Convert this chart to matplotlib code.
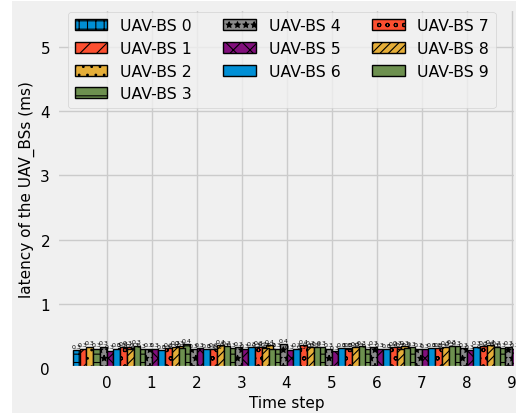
import numpy as np
import matplotlib
matplotlib.use("Agg")
import matplotlib.pyplot as plt
from matplotlib.patches import Rectangle

plt.style.use('fivethirtyeight')

# latency per UAV-BS over the time steps (ms)
time_steps = np.arange(10)
uav_names = ['UAV-BS %d' % i for i in range(10)]
lat0 = [0.28, 0.31, 0.27, 0.29, 0.30, 0.28, 0.31, 0.29, 0.30, 0.28]
lat1 = [0.30, 0.33, 0.29, 0.28, 0.32, 0.30, 0.31, 0.33, 0.29, 0.32]
lat2 = [0.33, 0.31, 0.34, 0.30, 0.36, 0.31, 0.30, 0.34, 0.32, 0.30]
lat3 = [0.30, 0.29, 0.37, 0.31, 0.30, 0.33, 0.29, 0.32, 0.34, 0.31]
lat4 = [0.33, 0.30, 0.29, 0.32, 0.37, 0.30, 0.33, 0.30, 0.31, 0.33]
lat5 = [0.27, 0.30, 0.31, 0.29, 0.28, 0.26, 0.30, 0.29, 0.28, 0.30]
lat6 = [0.30, 0.28, 0.29, 0.32, 0.30, 0.31, 0.29, 0.31, 0.33, 0.29]
lat7 = [0.32, 0.31, 0.30, 0.33, 0.36, 0.30, 0.32, 0.31, 0.34, 0.32]
lat8 = [0.29, 0.33, 0.36, 0.31, 0.33, 0.32, 0.30, 0.33, 0.36, 0.31]
lat9 = [0.35, 0.31, 0.34, 0.30, 0.32, 0.34, 0.31, 0.35, 0.33, 0.34]
latencies = [lat0, lat1, lat2, lat3, lat4, lat5, lat6, lat7, lat8, lat9]

patterns = ['++', '//', '..', '--', '**', 'xx', '', 'oo', '////', '']
colors = ['#008fd5', '#fc4f30', '#e5ae38', '#6d904f', '#8b8b8b', '#810f7c']

fig = plt.figure(figsize=(5.16, 4.14), dpi=100, facecolor='white')
fig.patches.append(Rectangle((12 / 516, 0), 1, 412 / 414, transform=fig.transFigure,
                             facecolor='#f0f0f0', edgecolor='none', zorder=-10))
ax = fig.add_axes([57 / 516, 45 / 414, 459 / 516, 359.5 / 414])
ax.set_facecolor('#f0f0f0')

plt.rcParams['hatch.linewidth'] = 0.8
width = 0.15
for i, lat in enumerate(latencies):
    bars = ax.bar(time_steps + (i - 4.5) * width, lat, width,
                  color=colors[i % len(colors)], edgecolor='black', linewidth=1,
                  hatch=patterns[i], label=uav_names[i])
    ax.bar_label(bars, labels=['%.1f' % v for v in lat], fontsize=4.5, padding=1)

ax.set_xlim(-1.1, 9.1)
ax.set_ylim(0, 5.6)
ax.set_xticks(time_steps)
ax.set_yticks([0, 1, 2, 3, 4, 5])
ax.tick_params(labelsize=11, pad=5)
ax.set_xlabel('Time step', fontsize=11)
ax.set_ylabel('latency of the UAV_BSs (ms)', fontsize=11)
ax.legend(loc='upper center', ncol=3, fontsize=11.3, bbox_to_anchor=(0.49, 1.0),
          handlelength=2.1, borderaxespad=0.2, frameon=True)

fig.savefig('out.png', dpi=100, facecolor='white')
